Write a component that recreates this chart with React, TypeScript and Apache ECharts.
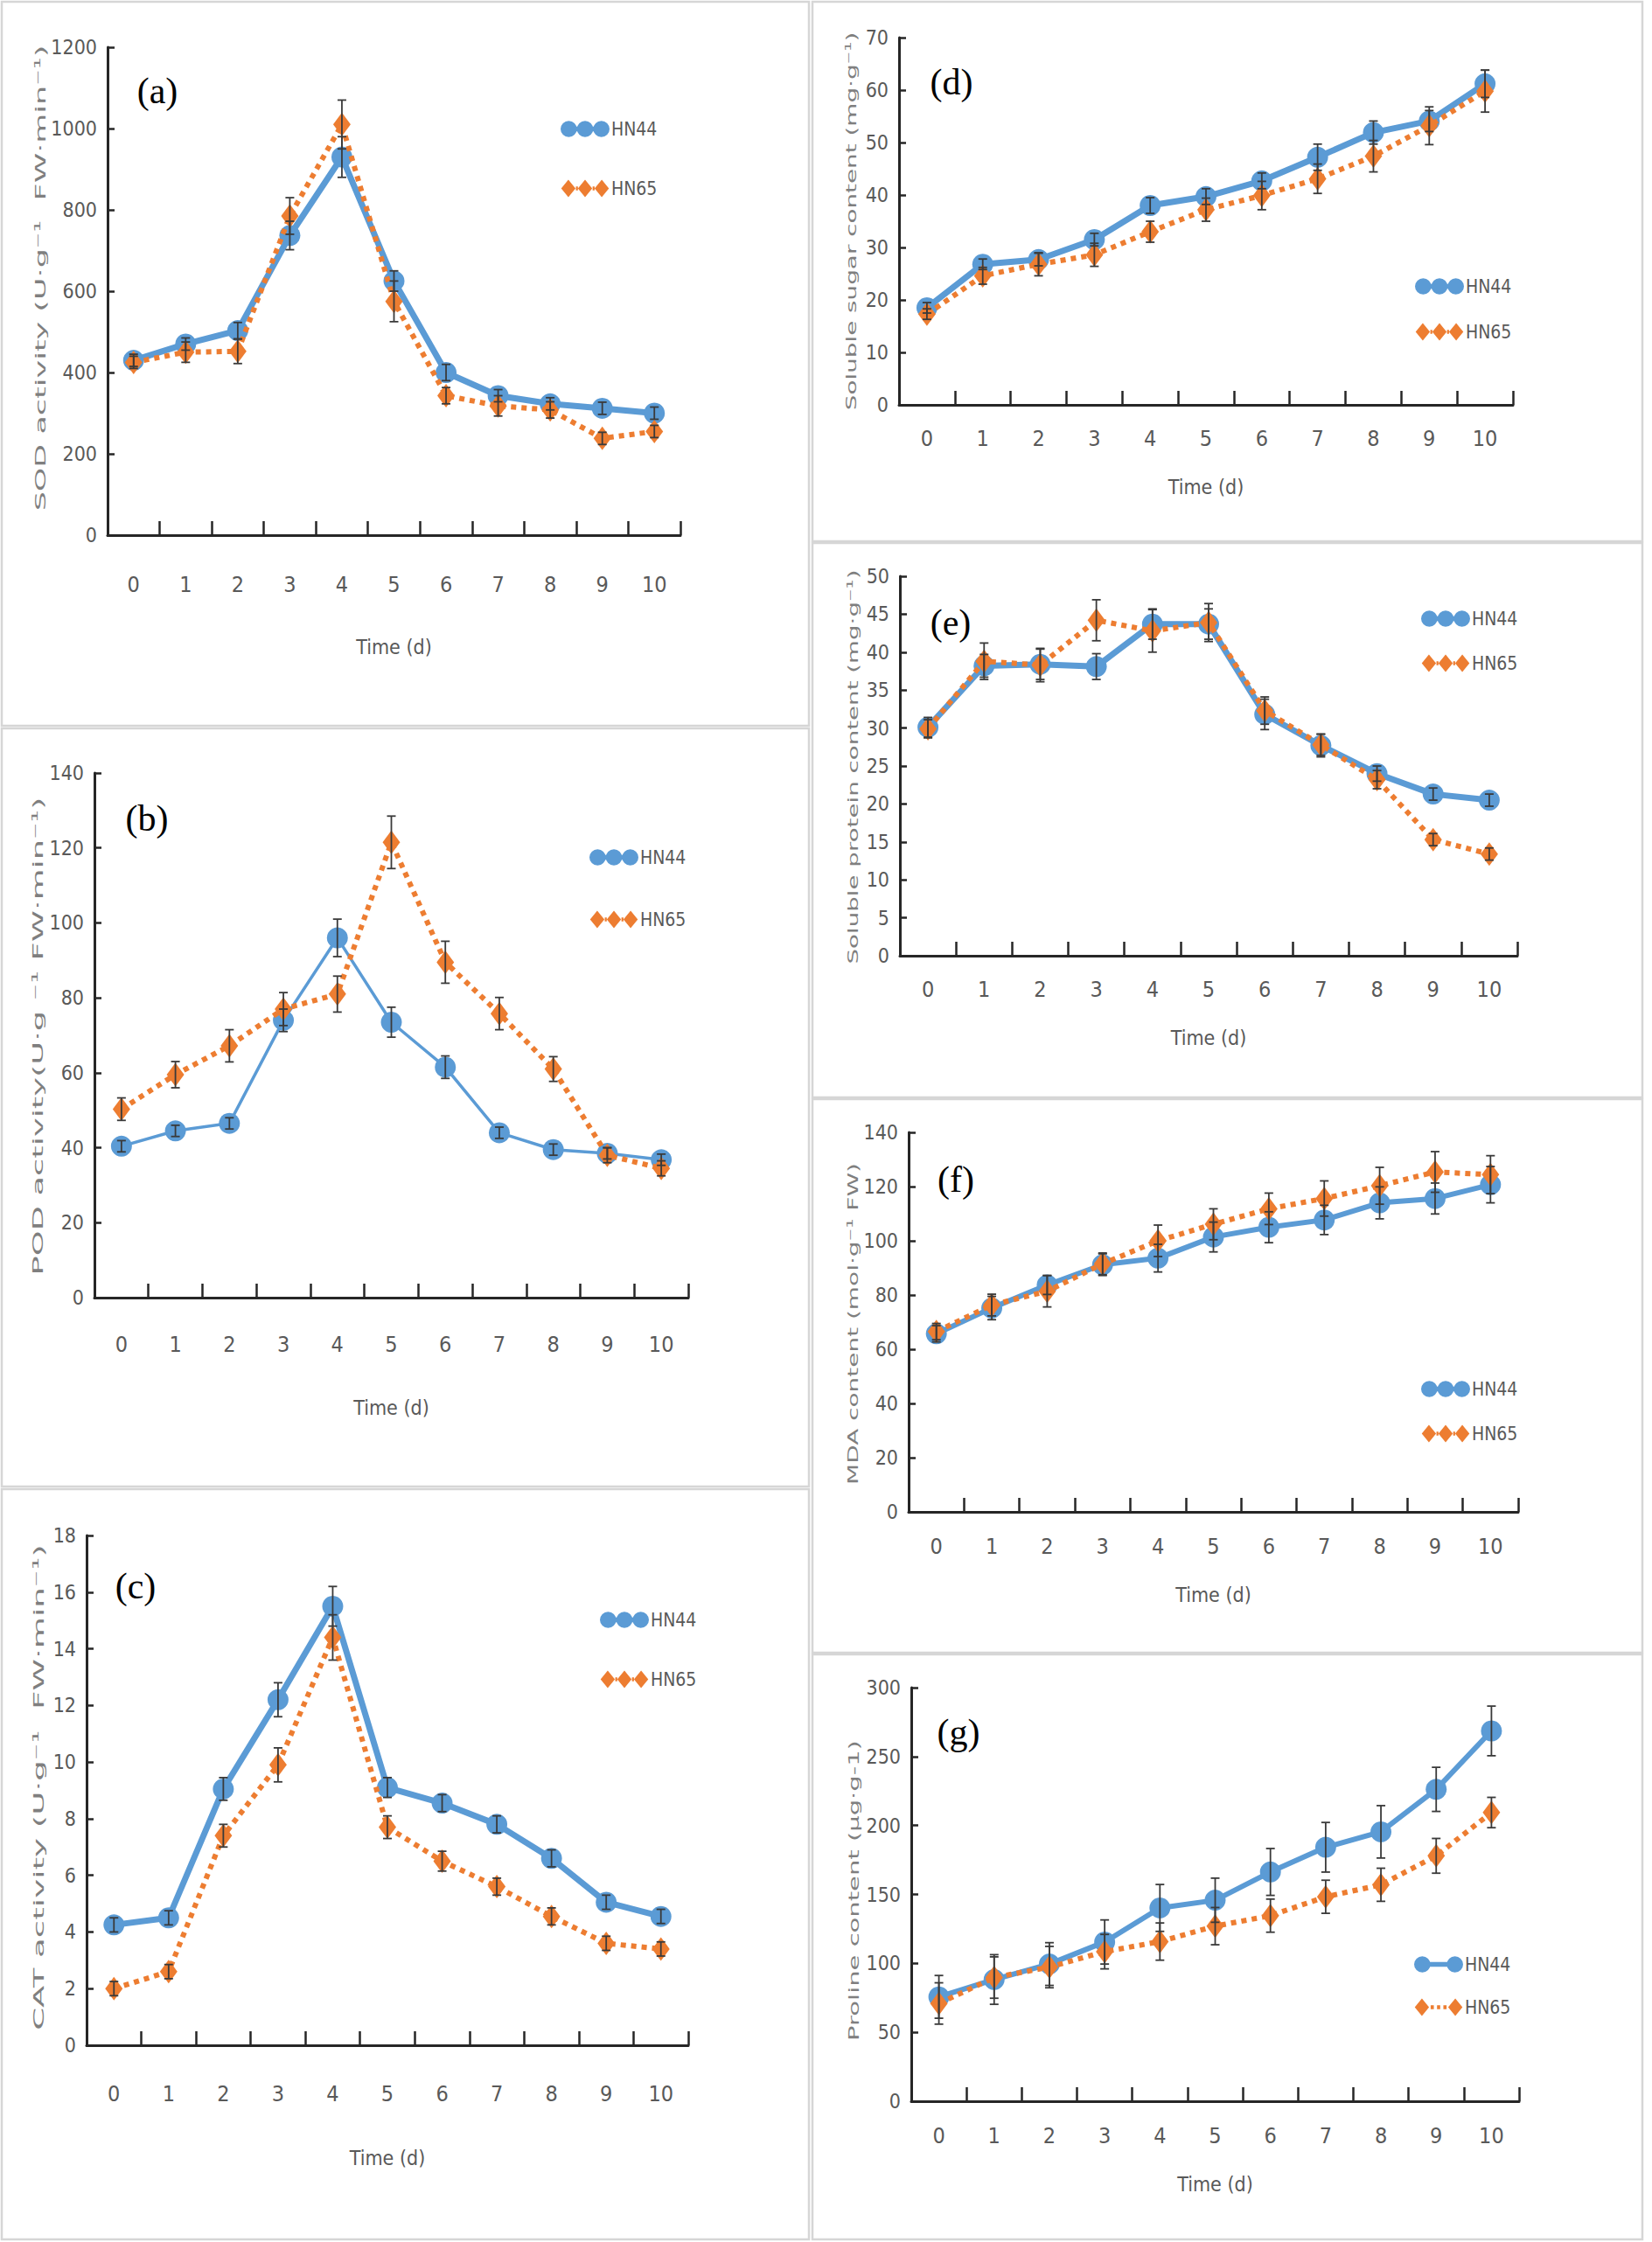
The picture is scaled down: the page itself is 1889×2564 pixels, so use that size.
import React, { useEffect, useRef } from "react";
import * as echarts from "echarts";

// ---------- data ----------
const days = ["0", "1", "2", "3", "4", "5", "6", "7", "8", "9", "10"];

const sod44 = [430, 470, 503, 737, 930, 625, 400, 343, 323, 312, 300];
const sod65 = [425, 450, 452, 785, 1010, 575, 343, 318, 308, 238, 255];
const sodErr44 = [15, 15, 20, 35, 50, 25, 20, 15, 15, 15, 15];
const sodErr65 = [15, 25, 30, 45, 60, 50, 20, 25, 20, 15, 15];

const pod44 = [40.4, 44.5, 46.5, 74, 96, 73.5, 61.5, 44, 39.5, 38.5, 36.8];
const pod65 = [50.3, 59.5, 67.2, 77, 81, 121.5, 89.5, 75.8, 61, 38, 34.5];
const podErr44 = [1.5, 1.5, 1.5, 3, 5, 4, 3, 1.5, 1.5, 1.5, 1.5];
const podErr65 = [3, 3.5, 4.3, 4.4, 4.8, 7, 5.6, 4.3, 3.3, 2, 2];

const cat44 = [4.25, 4.5, 9.05, 12.2, 15.5, 9.1, 8.55, 7.8, 6.6, 5.05, 4.55];
const cat65 = [2.0, 2.6, 7.4, 9.9, 14.4, 7.7, 6.5, 5.6, 4.55, 3.6, 3.4];
const catErr44 = [0.25, 0.25, 0.4, 0.6, 0.7, 0.35, 0.3, 0.3, 0.3, 0.25, 0.25];
const catErr65 = [0.25, 0.25, 0.4, 0.6, 0.8, 0.4, 0.35, 0.3, 0.3, 0.25, 0.25];

const sugar44 = [18.5, 26.8, 27.7, 31.5, 38, 39.7, 42.7, 47.2, 51.9, 54.1, 61.2];
const sugar65 = [17.3, 24.6, 26.8, 28.6, 33, 37.2, 39.9, 43.1, 47.4, 53.2, 59.8];
const sugarErr44 = [1, 1, 1.2, 1.2, 1.5, 1.5, 1.5, 2.5, 2.2, 2, 2.6];
const sugarErr65 = [1, 1.6, 2.2, 2.2, 2, 2.2, 2.7, 2.8, 3, 3.6, 4];

const prot44 = [30.1, 38.2, 38.4, 38.1, 43.7, 43.7, 31.8, 27.7, 24.0, 21.3, 20.5];
const prot65 = [29.9, 38.8, 38.3, 44.2, 42.8, 43.9, 32.3, 27.8, 23.2, 15.3, 13.4];
const protErr44 = [1.3, 1.5, 2, 1.7, 2, 2, 2, 1.5, 1, 0.8, 0.8];
const protErr65 = [1.2, 2.4, 2.2, 2.7, 2.8, 2.5, 1.8, 1.4, 1.2, 0.8, 0.8];

const mda44 = [65.7, 75.2, 83.7, 91.2, 93.6, 101.4, 105, 107.7, 114, 115.6, 120.7];
const mda65 = [66.5, 76.3, 81.4, 91.5, 100, 106.1, 111.8, 115.6, 120.3, 125.4, 124.4];
const mdaErr44 = [3, 4.3, 3.5, 4, 5.1, 5.5, 5.7, 5.4, 5.9, 5.7, 6.7];
const mdaErr65 = [3, 4, 5.8, 4, 5.8, 5.7, 5.8, 6.5, 6.8, 7.5, 7];

const pro44 = [75.7, 88.3, 99.5, 115.5, 140.2, 145.8, 166.3, 184.2, 195.4, 226.2, 268.6];
const pro65 = [70.9, 89.7, 97.3, 108.5, 115.8, 127.0, 134.6, 148.3, 157.0, 178.0, 209.4];
const proErr44 = [15.5, 18, 15.5, 16, 17, 16, 17, 18, 19, 16, 18];
const proErr65 = [15, 15, 15, 12.5, 13.5, 13.5, 12, 12, 12, 12.6, 11];

const yTitles = [
  "SOD activity (U·g⁻¹  FW·min⁻¹)",
  "POD activity(U·g ⁻¹ FW·min⁻¹)",
  "CAT activity (U·g⁻¹  FW·min⁻¹)",
  "Soluble sugar content (mg·g⁻¹)",
  "Soluble protein content (mg·g⁻¹)",
  "MDA content (mol·g⁻¹ FW)",
  "Proline content (μg·g-1)",
];
const letters = ["(a)", "(b)", "(c)", "(d)", "(e)", "(f)", "(g)"];
const seriesNames = ["HN44", "HN65"];
const xName = "Time (d)";

// ---------- style ----------
const BLUE = "#5B9BD5";
const ORANGE = "#ED7D31";
const AXIS = "#262626";
const TXT = "#595959";
const NARROW =
  "'Liberation Sans Narrow', 'DejaVu Sans Condensed', 'Arial Narrow', 'Roboto Condensed', 'Liberation Sans', sans-serif";

const C = (cx: number) => `M${cx - 10},10a10,10 0 1,0 20,0a10,10 0 1,0 -20,0Z`;
const D = (cx: number) => `M${cx - 9},11L${cx},0L${cx + 9},11L${cx},22Z`;
const ICON44 = "path://" + C(10) + " M10,7v6h40v-6Z " + C(30) + " " + C(50);
const ICON65 = "path://" + D(9) + " " + D(30) + " " + D(51) + " M18.5,8.5h2.5v5h-2.5Z M39.5,8.5h2.5v5h-2.5Z";
const ICON44G = "path://" + C(10) + " M10,7v6h40v-6Z " + C(50);
const ICON65G = "path://" + D(9) + " " + D(51) + " M20,8.5h4v5h-4Z M28,8.5h4v5h-4Z M36,8.5h4v5h-4Z";

type Panel = {
  v44: number[]; v65: number[]; e44: number[]; e65: number[];
  max: number; interval: number;
  grid: [number, number, number, number];
  labelMargin: number; nameGap: number;
  legend: [number, number, number];
  letter: [number, number];
  title: [number, number, number];
  w44: number;
  box: [number, number, number, number];
  icons: [string, string];
};

const panels: Panel[] = [
  { v44: sod44, v65: sod65, e44: sodErr44, e65: sodErr65, max: 1200, interval: 200,
    grid: [123, 54, 655, 558], labelMargin: 44, nameGap: 116, legend: [641, 137, 47],
    letter: [180, 104], title: [46, 318, 533], w44: 7, box: [2, 2, 923, 828], icons: [ICON44, ICON65] },
  { v44: pod44, v65: pod65, e44: podErr44, e65: podErr65, max: 140, interval: 20,
    grid: [108, 884, 679, 600], labelMargin: 41, nameGap: 114, legend: [674, 970, 50],
    letter: [168, 936], title: [44, 1185, 547], w44: 3.5, box: [2, 833, 923, 867], icons: [ICON44, ICON65] },
  { v44: cat44, v65: cat65, e44: catErr44, e65: catErr65, max: 18, interval: 2,
    grid: [99, 1756, 688, 583], labelMargin: 43, nameGap: 117, legend: [686, 1842, 47],
    letter: [155, 1814], title: [44, 2044, 556], w44: 7, box: [2, 1703, 923, 858], icons: [ICON44, ICON65] },
  { v44: sugar44, v65: sugar65, e44: sugarErr44, e65: sugarErr65, max: 70, interval: 10,
    grid: [1028, 43, 702, 420], labelMargin: 26, nameGap: 82, legend: [1618, 317, 31],
    letter: [1088, 94], title: [973, 253, 433], w44: 7, box: [929, 2, 949, 617], icons: [ICON44, ICON65] },
  { v44: prot44, v65: prot65, e44: protErr44, e65: protErr65, max: 50, interval: 5,
    grid: [1029, 659, 706, 434], labelMargin: 26, nameGap: 82, legend: [1625, 697, 30],
    letter: [1087, 712], title: [975, 877, 451], w44: 7, box: [929, 621, 949, 634], icons: [ICON44, ICON65] },
  { v44: mda44, v65: mda65, e44: mdaErr44, e65: mdaErr65, max: 140, interval: 20,
    grid: [1039, 1295, 697, 434], labelMargin: 27, nameGap: 83, legend: [1625, 1578, 30],
    letter: [1093, 1349], title: [975, 1514, 368], w44: 6, box: [929, 1257, 949, 633], icons: [ICON44, ICON65] },
  { v44: pro44, v65: pro65, e44: proErr44, e65: proErr65, max: 300, interval: 50,
    grid: [1042, 1930, 695, 473], labelMargin: 27, nameGap: 83, legend: [1617, 2236, 28],
    letter: [1096, 1981], title: [976, 2162, 344], w44: 6, box: [929, 1892, 949, 669], icons: [ICON44G, ICON65G] },
];

function measure(text: string, font: string): number {
  const c = document.createElement("canvas").getContext("2d");
  if (!c) return text.length * 15;
  c.font = font;
  return c.measureText(text).width;
}

const errRender = (params: any, api: any) => {
  const x = api.value(0);
  const lo = api.coord([x, api.value(1)]);
  const hi = api.coord([x, api.value(2)]);
  const w = 5;
  const style = { stroke: "#3a3a3a", lineWidth: 1.8 };
  return {
    type: "group",
    children: [
      { type: "line", shape: { x1: lo[0], y1: lo[1], x2: hi[0], y2: hi[1] }, style },
      { type: "line", shape: { x1: lo[0] - w, y1: lo[1], x2: lo[0] + w, y2: lo[1] }, style },
      { type: "line", shape: { x1: hi[0] - w, y1: hi[1], x2: hi[0] + w, y2: hi[1] }, style },
    ],
  };
};

function buildOption() {
  const titleFont = "28px 'DejaVu Sans'";
  const graphics: any[] = [];
  panels.forEach((p, i) => {
    graphics.push({
      type: "rect",
      shape: { x: p.box[0], y: p.box[1], width: p.box[2], height: p.box[3] },
      style: { fill: "none", stroke: "#d6d6d6", lineWidth: 2.5 },
      z: 0,
    });
    graphics.push({
      type: "text",
      x: p.letter[0],
      y: p.letter[1],
      style: {
        text: letters[i], fill: "#000", fontSize: 42, fontFamily: "'Liberation Serif', 'Times New Roman', serif",
        align: "center", verticalAlign: "middle", textAlign: "center", textVerticalAlign: "middle",
      },
      z: 10,
    });
    const w = measure(yTitles[i], titleFont);
    graphics.push({
      type: "text",
      x: p.title[0],
      y: p.title[1],
      rotation: Math.PI / 2,
      scaleX: p.title[2] / w,
      scaleY: 0.58,
      style: {
        text: yTitles[i], fill: "#7f7f7f", fontSize: 28, fontFamily: "'DejaVu Sans', sans-serif",
        align: "center", verticalAlign: "middle", textAlign: "center", textVerticalAlign: "middle",
      },
      z: 10,
    });
  });

  const series: any[] = [];
  panels.forEach((p, i) => {
    series.push({
      type: "line", name: seriesNames[0], xAxisIndex: i, yAxisIndex: i, data: p.v44,
      symbol: "circle", symbolSize: 24, itemStyle: { color: BLUE },
      lineStyle: { color: BLUE, width: p.w44 }, z: 2,
    });
    series.push({
      type: "line", name: seriesNames[1], xAxisIndex: i, yAxisIndex: i, data: p.v65,
      symbol: "diamond", symbolSize: [20, 27], itemStyle: { color: ORANGE },
      lineStyle: { color: ORANGE, width: 6, type: [6, 6] }, z: 3,
    });
    series.push({
      type: "custom", name: seriesNames[0] + " SD", xAxisIndex: i, yAxisIndex: i,
      data: p.v44.map((v, j) => [j, v - p.e44[j], v + p.e44[j]]),
      encode: { x: 0, y: [1, 2] }, renderItem: errRender, z: 5, silent: true,
    });
    series.push({
      type: "custom", name: seriesNames[1] + " SD", xAxisIndex: i, yAxisIndex: i,
      data: p.v65.map((v, j) => [j, v - p.e65[j], v + p.e65[j]]),
      encode: { x: 0, y: [1, 2] }, renderItem: errRender, z: 5, silent: true,
    });
  });

  return {
    animation: false,
    backgroundColor: "#ffffff",
    grid: panels.map((p) => ({ left: p.grid[0], top: p.grid[1], width: p.grid[2], height: p.grid[3] })),
    xAxis: panels.map((p, i) => ({
      type: "category", gridIndex: i, data: days, boundaryGap: true,
      axisLine: { lineStyle: { color: AXIS, width: 3 } },
      axisTick: { show: true, inside: true, length: 16, interval: 0, lineStyle: { color: AXIS, width: 2.5 } },
      axisLabel: { interval: 0, margin: p.labelMargin, color: TXT, fontFamily: NARROW, fontSize: 25 },
      name: xName, nameLocation: "middle", nameGap: p.nameGap,
      nameTextStyle: { color: TXT, fontFamily: NARROW, fontSize: 23 },
      splitLine: { show: false },
    })),
    yAxis: panels.map((p, i) => ({
      type: "value", gridIndex: i, min: 0, max: p.max, interval: p.interval,
      axisLine: { show: true, lineStyle: { color: AXIS, width: 3 } },
      axisTick: { show: true, inside: true, length: 8, lineStyle: { color: AXIS, width: 2.5 } },
      axisLabel: { margin: 12, color: TXT, fontFamily: NARROW, fontSize: 23, formatter: (v: number) => String(v) },
      splitLine: { show: false },
    })),
    legend: panels.map((p) => ({
      orient: "vertical", left: p.legend[0], top: p.legend[1], itemGap: p.legend[2],
      itemWidth: 56, itemHeight: 20, padding: 0, selectedMode: false,
      data: [
        { name: seriesNames[0], icon: p.icons[0] },
        { name: seriesNames[1], icon: p.icons[1] },
      ],
      itemStyle: { borderWidth: 0 },
      textStyle: { color: TXT, fontFamily: NARROW, fontSize: 21, padding: [0, 0, 0, -3] },
    })),
    graphic: { elements: graphics },
    series,
  };
}

export default function App() {
  const ref = useRef<HTMLDivElement>(null);
  useEffect(() => {
    if (!ref.current) return;
    const chart = echarts.init(ref.current, undefined, { renderer: "svg" });
    chart.setOption(buildOption() as any);
    return () => chart.dispose();
  }, []);
  return (
    <div
      ref={ref}
      style={{ position: "absolute", left: 0, top: 0, width: 1889, height: 2564, background: "#fff" }}
    />
  );
}
